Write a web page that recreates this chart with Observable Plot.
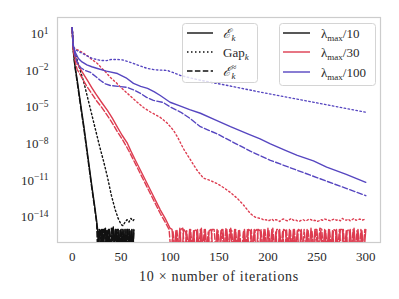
<!DOCTYPE html>
<html>
<head>
<meta charset="utf-8">
<script src="https://cdn.jsdelivr.net/npm/d3@7"></script>
<script src="https://cdn.jsdelivr.net/npm/@observablehq/plot@0.6"></script>
<style>
  html, body { margin: 0; padding: 0; background: #fff; }
  #chart { position: relative; width: 399px; height: 299px; }
</style>
</head>
<body>
<div id="chart"></div>
<script>
// ---- tick labels ----
const xTicks = [0, 50, 100, 150, 200, 250, 300];
const yTickExps = [1, -2, -5, -8, -11, -14];

// ---- series: [x, log10(value)] ----
// lambda_max / 10
const black_E = [[0,1.5],[1,-0.2],[2,-1.0],[3,-1.7],[5,-2.7],[8,-4.4],[12,-6.6],[16,-9.0],[20,-11.4],[23,-13.1],[25,-14.3]];
const black_Gap = [[0,1.5],[1,-0.1],[3,-0.6],[6,-1.4],[9,-2.2],[12,-3.0],[16,-4.3],[20,-5.6],[24,-6.9],[28,-8.2],[32,-9.4],[36,-10.7],[40,-12.2],[44,-13.4],[47,-14.1],[50,-14.6],[52,-14.7],[54,-14.4],[56,-14.2],[58,-14.4],[60,-14.1],[62,-14.3],[63,-14.2]];
const black_Eapprox = [[0,1.5],[1,-0.3],[2,-1.1],[3,-1.8],[5,-2.9],[8,-4.6],[12,-6.8],[16,-9.2],[20,-11.6],[23,-13.3],[25,-14.5]];
// floors (x = 26..63, step 1)
const black_E_floor = [-15.0,-17,-15.0,-15.1,-17,-15.0,-17,-15.0,-14.9,-17,-15.1,-17,-15.0,-17,-17,-15.0,-14.8,-17,-15.0,-15.0,-17,-15.0,-17,-15.1,-15.0,-17,-15.0,-17,-15.0,-17,-15.0,-15.0,-17,-15.1,-17,-15.0,-17,-15.0];
const black_Eapprox_floor = [-17,-15.0,-15.1,-17,-15.0,-17,-15.0,-15.0,-17,-15.1,-17,-15.0,-15.0,-17,-14.9,-17,-15.0,-17,-15.1,-17,-15.0,-15.0,-17,-15.0,-17,-15.0,-15.1,-17,-15.0,-17,-15.0,-17,-15.0,-15.0,-17,-15.0,-17,-15.1];

// lambda_max / 30
const red_E = [[0,1.5],[1,-0.2],[3,-0.8],[5.4,-1.43],[10,-2.1],[15.6,-2.82],[20,-3.4],[23.8,-3.88],[30,-4.6],[36,-5.27],[41,-5.9],[46.3,-6.66],[51,-7.3],[56.5,-7.97],[60,-8.6],[64.7,-9.36],[70,-10.2],[75,-11.0],[80,-11.8],[85,-12.6],[90,-13.4],[95,-14.1],[100,-14.9]];
const red_Gap = [[0,1.5],[1,-0.1],[5,-0.3],[10,-0.5],[15.6,-0.8],[20,-1.1],[25.8,-1.43],[30,-1.8],[35,-2.2],[39,-2.57],[45,-3.0],[50,-3.4],[56.5,-3.88],[65,-4.5],[72.8,-5.03],[80,-5.4],[90,-5.84],[97,-6.3],[103.5,-6.9],[108,-7.5],[113.7,-8.4],[120,-9.2],[127,-10.1],[134,-10.8],[141,-11.0],[148,-11.25],[154.5,-11.57],[162,-12.0],[168.8,-12.47],[175,-13.0],[182,-13.7],[187,-14.0],[192,-14.1]];
const red_Eapprox = [[0,1.5],[1,-0.3],[3,-1.2],[5,-1.9],[10,-2.6],[15,-3.3],[20,-3.9],[25,-4.5],[30,-5.0],[36,-5.7],[41,-6.3],[46,-7.0],[51,-7.6],[56,-8.3],[60,-8.9],[65,-9.7],[70,-10.5],[75,-11.3],[80,-12.1],[85,-12.9],[90,-13.7],[95,-14.4],[99,-15.0]];
// floors (solid: x = 102..300 step 2; dashed: x = 101..299 step 2; dotted: x = 194..300 step 2)
const red_E_floor = [
  -15.0,-17,-15.1,-17,-14.9,-17,-15.0,-15.2,-17,-15.0,-17,-15.1,-17,-15.0,-17,-14.9,-17,-15.0,-17,-15.1,
  -15.0,-17,-17,-15.0,-17,-15.1,-15.0,-17,-15.0,-17,-14.9,-17,-15.0,-17,-15.1,-17,-17,-15.0,-17,-15.0,
  -15.1,-17,-15.0,-17,-15.0,-15.1,-17,-15.0,-17,-14.9,-17,-15.0,-17,-15.2,-17,-15.0,-17,-15.0,-15.1,-17,
  -15.0,-17,-15.0,-17,-15.1,-17,-15.0,-17,-17,-15.0,-17,-14.9,-17,-15.0,-15.0,-17,-15.1,-17,-15.0,-17,
  -15.0,-17,-15.1,-17,-15.0,-17,-15.0,-15.0,-17,-15.1,-17,-15.0,-17,-14.9,-17,-15.0,-17,-15.1,-17,-15.0];
const red_Eapprox_floor = [
  -17,-15.1,-17,-15.0,-17,-15.0,-14.9,-17,-15.1,-17,-15.0,-17,-15.0,-15.1,-17,-15.0,-17,-15.0,-17,-15.2,
  -17,-15.0,-15.0,-17,-15.1,-17,-15.0,-17,-14.9,-17,-15.0,-15.1,-17,-15.0,-17,-15.0,-17,-15.1,-17,-15.0,
  -17,-15.0,-17,-15.1,-15.0,-17,-15.0,-17,-15.0,-17,-15.1,-17,-14.9,-17,-15.0,-15.0,-17,-15.1,-17,-15.0,
  -17,-15.1,-17,-15.0,-17,-15.0,-15.1,-17,-15.0,-17,-15.0,-17,-15.1,-17,-15.0,-17,-14.9,-15.0,-17,-15.1,
  -17,-15.0,-17,-15.0,-15.1,-17,-15.0,-17,-15.0,-17,-15.1,-15.0,-17,-15.0,-17,-15.1,-17,-15.0,-17,-15.0];
const red_Gap_floor = [-14.15,-14.25,-14.2,-14.3,-14.25,-14.15,-14.3,-14.2,-14.25,-14.35,-14.2,-14.15,-14.25,-14.3,-14.2,-14.1,-14.25,-14.2,-14.3,-14.35,-14.25,-14.2,-14.3,-14.25,-14.15,-14.2,-14.3,-14.25,-14.35,-14.3,-14.2,-14.25,-14.15,-14.2,-14.25,-14.3,-14.2,-14.15,-14.25,-14.2,-14.3,-14.1,-14.2,-14.25,-14.15,-14.3,-14.2,-14.1,-14.25,-14.2,-14.15,-14.25,-14.2,-14.15];

// lambda_max / 100
const blue_E = [[0,1.5],[1,0.1],[3,-0.5],[6.4,-1.02],[10,-1.3],[15,-1.55],[20,-1.7],[25.8,-1.84],[35,-2.05],[46.3,-2.25],[55,-2.6],[62.6,-3.06],[70,-3.3],[77,-3.47],[84,-3.75],[90,-4.05],[100,-4.6],[110,-4.9],[120,-5.2],[131,-5.5],[145,-6.0],[161.7,-6.6],[180,-7.2],[192,-7.6],[202.5,-8.0],[217.8,-8.54],[230,-8.95],[246.5,-9.4],[260,-9.9],[280,-10.5],[300,-11.15]];
const blue_Gap = [[0,1.5],[1,-0.1],[3,-0.3],[8.5,-0.53],[15,-0.8],[20,-1.0],[28.9,-1.18],[35,-1.2],[40,-1.1],[46,-1.1],[52,-1.15],[58,-1.3],[62.6,-1.43],[70,-1.65],[77,-1.84],[85,-1.95],[97.3,-2.0],[104,-2.2],[110.6,-2.41],[120,-2.6],[131,-2.8],[160,-3.25],[192,-3.77],[250,-4.65],[300,-5.42]];
const blue_Eapprox = [[0,1.5],[1,0.0],[3,-0.8],[5,-1.3],[8.5,-1.76],[13,-2.0],[18.7,-2.16],[24,-2.5],[28.9,-2.82],[34,-3.1],[39,-3.23],[47,-3.3],[56.5,-3.39],[63,-3.6],[69.8,-3.88],[76,-4.2],[83,-4.45],[93,-4.62],[100.4,-5.0],[110.6,-5.4],[120,-5.9],[131,-6.6],[148.5,-7.2],[165,-7.9],[182,-8.6],[202.5,-9.35],[230,-10.17],[250,-10.76],[275,-11.5],[300,-12.24]];

// ---- styles ----
const colors = {black: "#111111", red: "#dd3c50", blue: "#5646c0"};
const dashes = {E: null, Gap: "1.5,2.5", Eapprox: "5.5,2.4"};

function rows(main, floor, start, step) {
  const r = main.map(([x, e]) => ({x, y: Math.pow(10, e)}));
  if (floor) floor.forEach((e, i) => r.push({x: start + i * step, y: Math.pow(10, e)}));
  return r;
}

const series = [
  {c: "black", k: "E", data: rows(black_E, black_E_floor, 26, 1)},
  {c: "black", k: "Gap", data: rows(black_Gap)},
  {c: "black", k: "Eapprox", data: rows(black_Eapprox, black_Eapprox_floor, 26, 1)},
  {c: "red", k: "E", data: rows(red_E, red_E_floor, 102, 2)},
  {c: "red", k: "Gap", data: rows(red_Gap, red_Gap_floor, 194, 2)},
  {c: "red", k: "Eapprox", data: rows(red_Eapprox, red_Eapprox_floor, 101, 2)},
  {c: "blue", k: "E", data: rows(blue_E)},
  {c: "blue", k: "Gap", data: rows(blue_Gap)},
  {c: "blue", k: "Eapprox", data: rows(blue_Eapprox)}
];

const font = "Liberation Serif";

const plot = Plot.plot({
  width: 399,
  height: 299,
  marginLeft: 57,
  marginRight: 19,
  marginTop: 17,
  marginBottom: 57,
  style: {fontSize: "13px", color: "#333", background: "#fff"},
  x: {domain: [-15, 315]},
  y: {type: "log", domain: [Math.pow(10, -16.07), Math.pow(10, 2.33)]},
  marks: [
    Plot.frame({stroke: "#cccccc", strokeWidth: 1.2}),
    ...series.map(s => Plot.line(s.data, {
      x: "x", y: "y", stroke: colors[s.c], strokeWidth: 1.4,
      strokeDasharray: dashes[s.k], clip: true
    })),
    Plot.axisX({ticks: xTicks, tickSize: 0, tickPadding: 9,
      label: "10 × number of iterations", labelAnchor: "center", labelArrow: "none", labelOffset: 38}),
    Plot.axisY({ticks: yTickExps.map(e => Math.pow(10, e)), tickSize: 0, tickPadding: 9,
      tickFormat: d => "10|" + String(Math.round(Math.log10(d))).replace("-", "\u2212"), label: null})
  ]
});
document.getElementById("chart").appendChild(plot);

const svg = d3.select(plot);
svg.attr("font-family", font);
svg.selectAll("text").attr("font-family", font).attr("font-size", 13).attr("fill", "#2a2a2a");
// wider axis title (the original uses a broader Computer Modern face)
svg.selectAll('g[aria-label="x-axis label"] text').attr("font-size", 14).attr("letter-spacing", 0.7);

// superscript exponents on the y tick labels
svg.selectAll('g[aria-label="y-axis tick label"] text').each(function () {
  const t = d3.select(this);
  const [base, exp] = t.text().split("|");
  t.text(null);
  t.append("tspan").text(base);
  t.append("tspan").attr("dy", "-0.45em").attr("font-size", "9.5px").text(exp);
});

// ---- legends ----
function legend(x, y, w, h, items, lx0, lx1, tx) {
  const g = svg.append("g").attr("font-family", font).attr("font-size", 13)
    .attr("fill", "#2a2a2a").attr("text-anchor", "start");
  g.append("rect").attr("x", x + 0.5).attr("y", y + 0.5).attr("width", w).attr("height", h)
    .attr("rx", 3).attr("fill", "rgba(255,255,255,0.8)").attr("stroke", "#d4d4d4");
  items.forEach(it => {
    g.append("line").attr("x1", lx0).attr("x2", lx1).attr("y1", it.y).attr("y2", it.y)
      .attr("stroke", it.stroke).attr("stroke-width", 1.4).attr("stroke-dasharray", it.dash);
    it.label(g, tx, it.y + 4.5);
  });
}
function scriptE(g, x, y, sup) {
  const t = g.append("text").attr("x", x).attr("y", y).attr("font-style", "italic").text("\u2130");
  const w = t.node().getComputedTextLength();
  if (sup) g.append("text").attr("x", x + w + 0.5).attr("y", y - 6).attr("font-size", 9).text(sup);
  g.append("text").attr("x", x + w + 0.5).attr("y", y + 3).attr("font-size", 9).attr("font-style", "italic").text("k");
}
legend(182, 23, 75, 59, [
  {y: 33, stroke: colors.black, dash: null, label: (g, x, y) => scriptE(g, x, y)},
  {y: 52, stroke: colors.black, dash: "1.5,2.5", label: (g, x, y) => {
    const t = g.append("text").attr("x", x).attr("y", y);
    t.append("tspan").text("Gap");
    t.append("tspan").attr("dy", 3).attr("font-size", 9).attr("font-style", "italic").text("k");
  }},
  {y: 71, stroke: colors.black, dash: "5.5,2.4", label: (g, x, y) => scriptE(g, x, y, "\u2248")}
], 187, 213, 223);

function lam(n) {
  return (g, x, y) => {
    const t = g.append("text").attr("x", x).attr("y", y);
    t.append("tspan").text("\u03bb");
    t.append("tspan").attr("dy", 3).attr("font-size", 9).text("max");
    t.append("tspan").attr("dy", -3).text("/" + n);
  };
}
legend(279, 23, 96, 62, [
  {y: 33, stroke: colors.black, dash: null, label: lam(10)},
  {y: 52, stroke: colors.red, dash: null, label: lam(30)},
  {y: 72, stroke: colors.blue, dash: null, label: lam(100)}
], 283, 310, 321);
</script>
</body>
</html>
